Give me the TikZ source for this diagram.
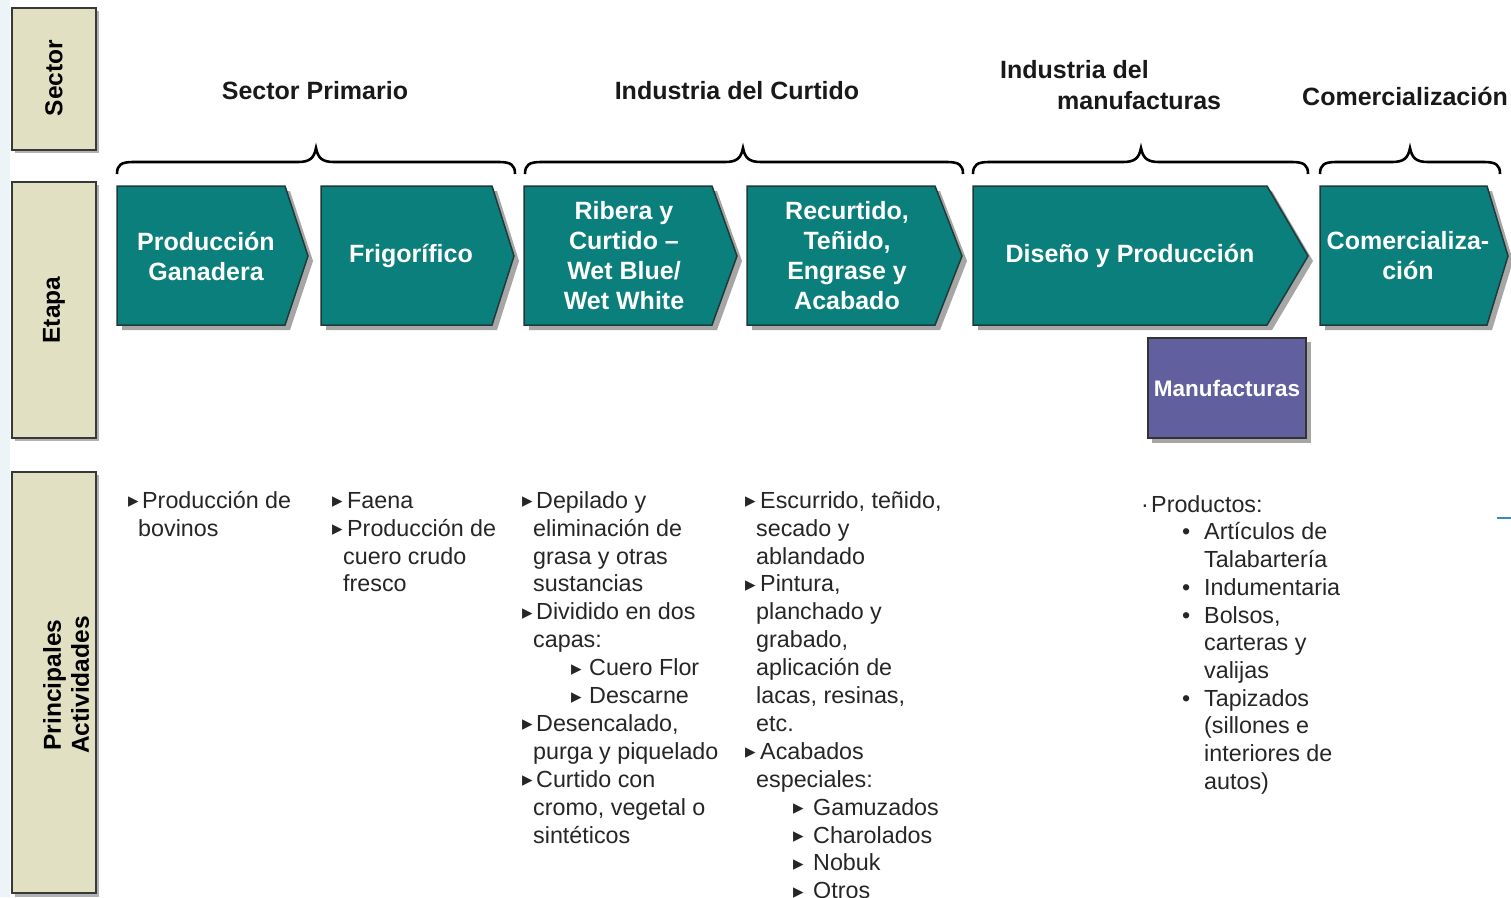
\documentclass[tikz,border=0pt]{standalone}
\usepackage{fontspec}
\setmainfont{Liberation Sans}
\newfontfamily\symfont{DejaVu Sans}
\definecolor{tealfill}{HTML}{0B7F7C}
\definecolor{tealdark}{HTML}{1F3A39}
\definecolor{khaki}{HTML}{E2E0C3}
\definecolor{purp}{HTML}{625F9F}
\definecolor{paleblue}{HTML}{EDF4F8}
\definecolor{txt}{HTML}{262626}
\definecolor{markblue}{HTML}{3A8FB0}
\newcommand\bt[1]{\makebox[#1][l]{\raisebox{0.5pt}{\symfont\fontsize{21}{21}\selectfont ▸}}}
\newcommand\chevshape[6]{%
  \fill[chshadow] (#1+5,191) -- (#2+5,191) -- (#3+5,261) -- (#2+5,330) -- (#1+5,330) -- cycle;
  \filldraw[chevst] (#1,186) -- (#2,186) -- (#3,256) -- (#2,325) -- (#1,325) -- cycle;
  \node[chevtext] (#4) at (#5,256) {#6};}
\newcommand\mybrace[3]{%
  \draw[bracest] (#1,174) .. controls (#1,165) and (#1+4,162) .. (#1+16,162) -- (#2-18,162)
    .. controls (#2-6,162) and (#2-2,158) .. (#2,148)
    .. controls (#2+2,158) and (#2+6,162) .. (#2+18,162) -- (#3-16,162)
    .. controls (#3-4,162) and (#3,165) .. (#3,174);}
\tikzset{
  chshadow/.style={fill=black!35},
  chevst/.style={fill=tealfill, draw=tealdark, line width=1.5pt},
  chevtext/.style={text=white, align=center, inner sep=0pt, font=\fontsize{25}{30}\selectfont\bfseries},
  bracest/.style={draw=black, line width=2.6pt},
  sidebox/.style={fill=khaki, draw=black!78, line width=2pt},
  sidetext/.style={rotate=90, align=center, inner sep=0pt, font=\fontsize{24.5}{28}\selectfont\bfseries},
  sectortext/.style={inner sep=0pt, text=black!90, font=\fontsize{25}{31}\selectfont\bfseries},
  acttext/.style={anchor=north west, align=left, inner sep=0pt, text=txt, font=\fontsize{23.3}{27.9}\selectfont},
  markline/.style={draw=markblue, line width=2pt},
}
\begin{document}
\begin{tikzpicture}[x=1pt,y=-1pt]
\useasboundingbox (0,0) rectangle (1511,897);
\clip (0,0) rectangle (1511,897);
\fill[white] (0,0) rectangle (1511,897);
\fill[paleblue] (0,0) rectangle (10,897);

% side labels
\fill[black!30] (15,11) rectangle (99,153);
\filldraw[sidebox] (12,8) rectangle (96,150);
\node[sidetext] (lsector) at (54,78) {Sector};
\fill[black!30] (15,185) rectangle (99,441);
\filldraw[sidebox] (12,182) rectangle (96,438);
\node[sidetext] (letapa) at (54,310) {Etapa};
\fill[black!30] (15,475) rectangle (99,897);
\filldraw[sidebox] (12,472) rectangle (96,893);
\node[sidetext] (lact) at (66,685) {Principales\\Actividades};

% sector titles
\node[sectortext] (sprim) at (315,91) {Sector Primario};
\node[sectortext] (scurt) at (737,91) {Industria del Curtido};
\node[sectortext, anchor=north west, align=left] (smanuf) at (1000,58) {\rule{0pt}{20pt}Industria del\\\hspace*{57pt}manufacturas};
\node[sectortext, anchor=west] (scom) at (1302,96) {Comercialización};

% braces
\mybrace{117}{316}{515}
\mybrace{525}{743}{963}
\mybrace{973}{1141}{1308}
\mybrace{1320}{1410}{1500}

% chevrons
\chevshape{117}{285}{308}{c1}{206}{Producción\\Ganadera}
\chevshape{321}{492}{514}{c2}{411}{Frigorífico}
\chevshape{524}{712}{737}{c3}{624}{Ribera y\\Curtido –\\Wet Blue/\\Wet White}
\chevshape{747}{935}{962}{c4}{847}{Recurtido,\\Teñido,\\Engrase y\\Acabado}
\chevshape{973}{1267}{1308}{c5}{1130}{Diseño y Producción}
\chevshape{1320}{1487}{1508}{c6}{1408}{Comercializa-\\ción}

% manufacturas
\fill[black!35] (1152,342) rectangle (1311,443);
\node[fill=purp, draw=black!80, line width=1.5pt, minimum width=158pt, minimum height=100pt, inner sep=0pt,
  text=white, font=\fontsize{22.5}{26}\selectfont\bfseries] (manuf) at (1227,388) {Manufacturas};

% activities
\node[acttext] (a1) at (128,488) {\rule{0pt}{20pt}\bt{14pt}Producción de\\\hspace*{10pt}bovinos};
\node[acttext] (a2) at (332,488) {\rule{0pt}{20pt}\bt{15pt}Faena\\\bt{15pt}Producción de\\\hspace*{11pt}cuero crudo\\\hspace*{11pt}fresco};
\node[acttext] (a3) at (522,488) {\rule{0pt}{20pt}\bt{14pt}Depilado y\\
\hspace*{11pt}eliminación de\\
\hspace*{11pt}grasa y otras\\
\hspace*{11pt}sustancias\\
\bt{14pt}Dividido en dos\\
\hspace*{11pt}capas:\\
\hspace*{49pt}\bt{18pt}Cuero Flor\\
\hspace*{49pt}\bt{18pt}Descarne\\
\bt{14pt}Desencalado,\\
\hspace*{11pt}purga y piquelado\\
\bt{14pt}Curtido con\\
\hspace*{11pt}cromo, vegetal o\\
\hspace*{11pt}sintéticos};
\node[acttext] (a4) at (745,488) {\rule{0pt}{20pt}\bt{15pt}Escurrido, teñido,\\
\hspace*{11pt}secado y\\
\hspace*{11pt}ablandado\\
\bt{15pt}Pintura,\\
\hspace*{11pt}planchado y\\
\hspace*{11pt}grabado,\\
\hspace*{11pt}aplicación de\\
\hspace*{11pt}lacas, resinas,\\
\hspace*{11pt}etc.\\
\bt{15pt}Acabados\\
\hspace*{11pt}especiales:\\
\hspace*{48pt}\bt{20pt}Gamuzados\\
\hspace*{48pt}\bt{20pt}Charolados\\
\hspace*{48pt}\bt{20pt}Nobuk\\
\hspace*{48pt}\bt{20pt}Otros};
\node[acttext, font=\fontsize{23.3}{27.7}\selectfont] (a5) at (1141,492) {\rule{0pt}{20pt}\makebox[10pt][l]{·}Productos:\\
\hspace*{41pt}\makebox[22pt][l]{•}Artículos de\\
\hspace*{63pt}Talabartería\\
\hspace*{41pt}\makebox[22pt][l]{•}Indumentaria\\
\hspace*{41pt}\makebox[22pt][l]{•}Bolsos,\\
\hspace*{63pt}carteras y\\
\hspace*{63pt}valijas\\
\hspace*{41pt}\makebox[22pt][l]{•}Tapizados\\
\hspace*{63pt}(sillones e\\
\hspace*{63pt}interiores de\\
\hspace*{63pt}autos)};

% small mark at right edge
\draw[markline] (1497,518) -- (1511,518);
\end{tikzpicture}
\end{document}
